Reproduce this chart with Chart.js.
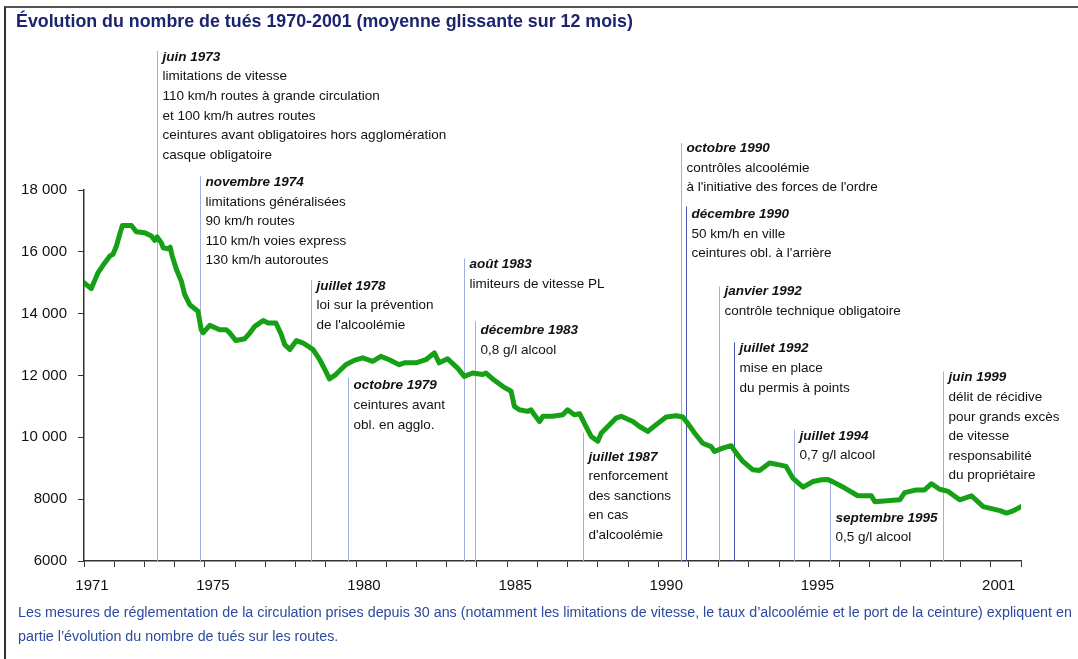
<!DOCTYPE html>
<html lang="fr">
<head>
<meta charset="utf-8">
<title>Évolution du nombre de tués 1970-2001</title>
<script src="https://cdn.jsdelivr.net/npm/chart.js@4.4.0/dist/chart.umd.min.js"></script>
<style>
  html, body { margin: 0; padding: 0; background: #fff; }
  #wrap { position: relative; width: 1078px; height: 659px; overflow: hidden; font-family: "Liberation Sans", Arial, sans-serif; }
  #frame { position: absolute; left: 4px; top: 6px; right: -4px; bottom: -4px; border-left: 2px solid #333; border-top: 2px solid #555; }
  #title { position: absolute; left: 16px; top: 10px; font-weight: bold; font-size: 19px; color: #1c2470; white-space: nowrap; transform-origin: 0 0; }
  .foot { position: absolute; left: 18px; font-size: 14px; color: #2b4aa0; white-space: nowrap; transform-origin: 0 0; }
  canvas { position: absolute; left: 0; top: 0; }
</style>
</head>
<body>
<div id="wrap">
  <div id="frame"></div>
  <canvas id="c" width="1078" height="659"></canvas>
  <div id="title">Évolution du nombre de tués 1970-2001 (moyenne glissante sur 12 mois)</div>
  <div class="foot" id="foot1" style="top:604px">Les mesures de réglementation de la circulation prises depuis 30 ans (notamment les limitations de vitesse, le taux d’alcoolémie et le port de la ceinture) expliquent en</div>
  <div class="foot" id="foot2" style="top:628px">partie l’évolution du nombre de tués sur les routes.</div>
</div>
<script>
// moyenne glissante sur 12 mois
const years = [
  1971.00, 1971.24, 1971.46, 1971.69, 1971.85, 1971.96, 1972.07, 1972.18, 1972.27, 1972.57,
  1972.73, 1973.01, 1973.23, 1973.34, 1973.42, 1973.56, 1973.62, 1973.78, 1973.85, 1973.92,
  1974.06, 1974.22, 1974.33, 1974.50, 1974.77, 1974.88, 1974.94, 1975.16, 1975.49, 1975.71,
  1975.82, 1976.02, 1976.32, 1976.49, 1976.65, 1976.93, 1977.09, 1977.35, 1977.53, 1977.64,
  1977.81, 1978.03, 1978.25, 1978.42, 1978.58, 1978.80, 1978.97, 1979.12, 1979.33, 1979.66,
  1979.94, 1980.22, 1980.55, 1980.82, 1981.10, 1981.43, 1981.60, 1981.98, 1982.31, 1982.59,
  1982.75, 1983.03, 1983.36, 1983.58, 1983.86, 1984.19, 1984.30, 1984.52, 1984.85, 1985.13,
  1985.24, 1985.40, 1985.68, 1985.79, 1985.90, 1986.07, 1986.18, 1986.50, 1986.84, 1987.00,
  1987.22, 1987.40, 1987.61, 1987.78, 1988.00, 1988.11, 1988.33, 1988.60, 1988.77, 1989.16,
  1989.38, 1989.65, 1989.93, 1990.26, 1990.59, 1990.81, 1990.97, 1991.20, 1991.47, 1991.75,
  1991.86, 1992.13, 1992.41, 1992.58, 1992.80, 1993.13, 1993.35, 1993.68, 1994.01, 1994.23,
  1994.45, 1994.79, 1995.12, 1995.40, 1995.60, 1995.78, 1996.17, 1996.60, 1997.05, 1997.16,
  1997.99, 1998.15, 1998.54, 1998.81, 1999.04, 1999.31, 1999.59, 1999.97, 2000.36, 2000.75,
  2001.30, 2001.52, 2001.74, 2002.00
];
const deaths = [
  15000, 14810, 15320, 15650, 15860, 15920, 16180, 16560, 16850, 16850,
  16650, 16620, 16510, 16370, 16480, 16290, 16130, 16100, 16150, 15860,
  15430, 15050, 14620, 14290, 14080, 13480, 13380, 13620, 13480, 13480,
  13380, 13130, 13190, 13380, 13590, 13780, 13700, 13700, 13320, 13000,
  12840, 13130, 13050, 12940, 12840, 12510, 12190, 11890, 12030, 12350,
  12490, 12570, 12460, 12620, 12510, 12350, 12410, 12410, 12510, 12730,
  12410, 12540, 12240, 11970, 12080, 12030, 12080, 11890, 11650, 11490,
  11000, 10890, 10840, 10890, 10730, 10510, 10680, 10680, 10730, 10890,
  10730, 10760, 10350, 10030, 9870, 10130, 10350, 10620, 10680, 10510,
  10350, 10190, 10410, 10660, 10700, 10660, 10460, 10140, 9810, 9700,
  9540, 9650, 9730, 9490, 9220, 8950, 8930, 9170, 9110, 9060,
  8680, 8390, 8570, 8630, 8640, 8560, 8360, 8110, 8110, 7920,
  7980, 8210, 8300, 8300, 8500, 8320, 8250, 7980, 8110, 7760,
  7630, 7550, 7620, 7760
];

const xTickLabels = ['1971', '1975', '1980', '1985', '1990', '1995', '2001'];
const yTicks = [6000, 8000, 10000, 12000, 14000, 16000, 18000];
const yTickLabels = ['6000', '8000', '10 000', '12 000', '14 000', '16 000', '18 000'];

// mesures de réglementation
const noteDates = [1973.42, 1974.83, 1978.5, 1979.75, 1983.58, 1983.92, 1987.5, 1990.75, 1990.92, 1992.0, 1992.5, 1994.5, 1995.67, 1999.42];
const noteHeads = ['juin 1973', 'novembre 1974', 'juillet 1978', 'octobre 1979', 'août 1983', 'décembre 1983', 'juillet 1987',
  'octobre 1990', 'décembre 1990', 'janvier 1992', 'juillet 1992', 'juillet 1994', 'septembre 1995', 'juin 1999'];
const noteTexts = [
  ['limitations de vitesse', '110 km/h routes à grande circulation', 'et 100 km/h autres routes', 'ceintures avant obligatoires hors agglomération', 'casque obligatoire'],
  ['limitations généralisées', '90 km/h routes', '110 km/h voies express', '130 km/h autoroutes'],
  ['loi sur la prévention', "de l'alcoolémie"],
  ['ceintures avant', 'obl. en agglo.'],
  ['limiteurs de vitesse PL'],
  ['0,8 g/l alcool'],
  ['renforcement', 'des sanctions', 'en cas', "d'alcoolémie"],
  ['contrôles alcoolémie', "à l'initiative des forces de l'ordre"],
  ['50 km/h en ville', "ceintures obl. à l'arrière"],
  ['contrôle technique obligatoire'],
  ['mise en place', 'du permis à points'],
  ['0,7 g/l alcool'],
  ['0,5 g/l alcool'],
  ['délit de récidive', 'pour grands excès', 'de vitesse', 'responsabilité', 'du propriétaire']
];
// hauteur (en unités de l'axe) du haut du trait et de la première ligne de texte
const noteLineTop = [22500, 18450, 15080, 11930, 15790, 13750, 10150, 19520, 17470, 14880, 13070, 10250, 8560, 12130];
const noteTextTop = [22300, 18250, 14900, 11670, 15590, 13450, 9370, 19350, 17210, 14720, 12870, 10050, 7390, 11930];

const FONT = '"Liberation Sans", Arial, sans-serif';
const darkNotes = [8, 10];

const notesPlugin = {
  id: 'notes',
  beforeDatasetsDraw(chart) {
    const { ctx, scales: { x, y } } = chart;
    const bottom = y.getPixelForValue(y.min);
    ctx.save();
    noteDates.forEach((d, i) => {
      const px = Math.round(x.getPixelForValue(d)) + 0.5;
      ctx.strokeStyle = darkNotes.includes(i) ? '#4352ad' : '#a4aee0';
      ctx.lineWidth = 1;
      ctx.beginPath();
      ctx.moveTo(px, y.getPixelForValue(noteLineTop[i]));
      ctx.lineTo(px, bottom);
      ctx.stroke();

      const ty = y.getPixelForValue(noteTextTop[i]);
      ctx.fillStyle = '#111';
      ctx.textBaseline = 'middle';
      ctx.font = 'italic bold 13.5px ' + FONT;
      ctx.fillText(noteHeads[i], px + 5, ty);
      ctx.font = '13.5px ' + FONT;
      noteTexts[i].forEach((t, j) => ctx.fillText(t, px + 5, ty + 19.6 * (j + 1)));
    });
    ctx.restore();
  }
};

new Chart(document.getElementById('c'), {
  type: 'line',
  data: {
    datasets: [{
      data: years.map((v, i) => ({ x: v, y: deaths[i] })),
      borderColor: '#15a015',
      borderWidth: 5,
      pointRadius: 0,
      tension: 0,
      borderJoinStyle: 'round',
      borderCapStyle: 'round'
    }]
  },
  options: {
    responsive: false,
    animation: false,
    layout: { padding: { top: 190, right: 57, bottom: 58, left: 0 } },
    plugins: { legend: { display: false }, tooltip: { enabled: false } },
    scales: {
      x: {
        type: 'linear',
        min: 1971,
        max: 2002,
        afterBuildTicks: (s) => {
          s.ticks = [];
          for (let yr = 1971; yr <= 2002; yr++) s.ticks.push({ value: yr });
        },
        afterFit: (s) => { s.height = 40; },
        ticks: {
          autoSkip: false,
          maxRotation: 0,
          labelOffset: 8,
          padding: 10,
          color: '#111',
          font: { size: 15, family: FONT },
          callback: (v) => xTickLabels.includes(String(v)) ? String(v) : ''
        },
        grid: { drawOnChartArea: false, tickLength: 6, color: '#333' },
        border: { color: '#333', width: 1.5 }
      },
      y: {
        min: 6000,
        max: 18000,
        afterBuildTicks: (s) => { s.ticks = yTicks.map((v) => ({ value: v })); },
        afterFit: (s) => { s.width = 84; },
        ticks: {
          padding: 11,
          color: '#111',
          font: { size: 15, family: FONT },
          callback: (v, i) => yTickLabels[i]
        },
        grid: { drawOnChartArea: false, tickLength: 6, color: '#333' },
        border: { color: '#333', width: 1.5 }
      }
    }
  },
  plugins: [notesPlugin]
});

// resserre le titre et la note de bas de page à la largeur d'origine
function fitWidth(el, target) {
  const k = target / el.offsetWidth;
  el.style.transform = 'scaleX(' + k + ')';
  return k;
}
fitWidth(document.getElementById('title'), 617);
const k = fitWidth(document.getElementById('foot1'), 1054);
document.getElementById('foot2').style.transform = 'scaleX(' + k + ')';
</script>
</body>
</html>
